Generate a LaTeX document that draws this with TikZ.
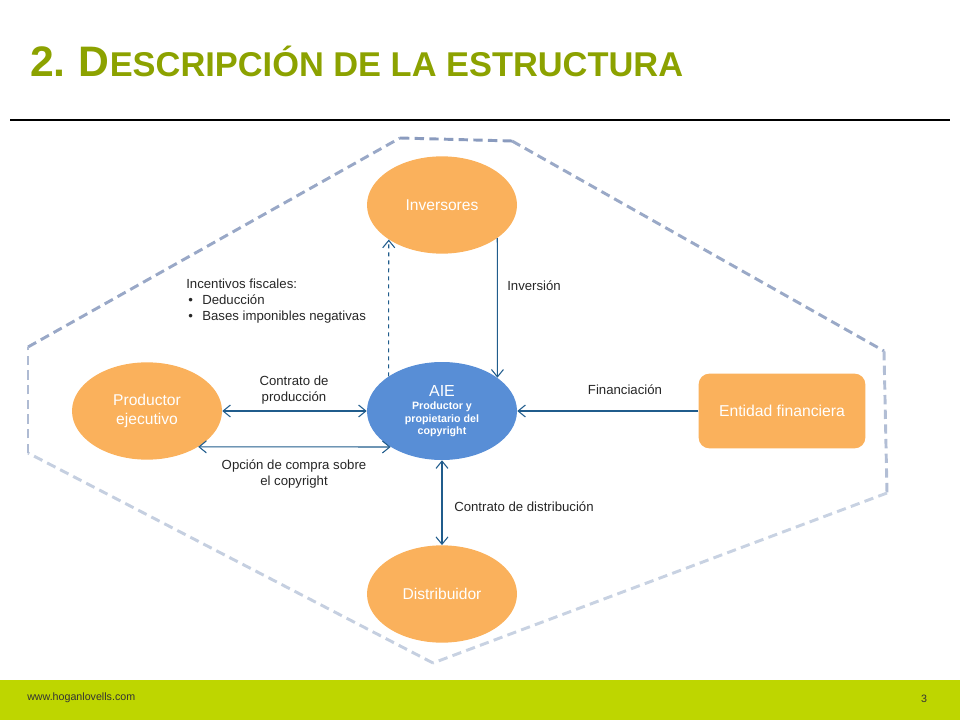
\documentclass[tikz,border=0pt]{standalone}
\usepackage{fontspec}
\setmainfont{Liberation Sans}
\usetikzlibrary{arrows.meta,shapes.geometric}

\definecolor{titlegreen}{RGB}{140,162,0}
\definecolor{footgreen}{RGB}{190,214,0}
\definecolor{partyfill}{RGB}{250,177,92}
\definecolor{aieblue}{RGB}{88,142,214}
\definecolor{flowblue}{RGB}{32,92,140}
\definecolor{octtop}{RGB}{138,155,190}
\definecolor{octbot}{RGB}{212,220,233}

\tikzset{
  party/.style={ellipse,fill=partyfill,text=white,minimum width=112.5pt,minimum height=73pt,
    inner sep=0pt,align=center,font=\fontsize{11.7}{14}\selectfont},
  flow/.style={draw=flowblue,line width=0.8pt},
  lbl/.style={inner sep=0pt,text=black!85,font=\fontsize{9.9}{12}\selectfont},
  octline/.style={line width=2.2pt,dash pattern=on 7pt off 4pt}
}

\begin{document}
\begin{tikzpicture}[x=0.75pt,y=-0.75pt,>={Straight Barb[length=5.5pt,width=9pt]}]
      \useasboundingbox (0,0) rectangle (960,720);
      \node[anchor=base west,inner sep=0pt,text=titlegreen,font=\bfseries] (title) at (30,77)
        {{\fontsize{32}{36}\selectfont 2.\hspace{-2pt} D}{\fontsize{25.8}{30}\selectfont ESCRIPCIÓN DE LA ESTRUCTURA}};
      \draw[line width=0.8pt] (10,120) to (950,120);

      \draw[octline,octtop!80!octbot] (28,347) to (400,138);
      \draw[octline,octtop] (400,138) to (512,141);
      \draw[octline,octtop!79!octbot] (512,141) to (884,351);
      \draw[octline,octtop!46!octbot] (884,351) to (887,493);
      \draw[octline,octtop!16!octbot] (887,493) to (433,663);
      \draw[octline,octtop!20!octbot] (433,663) to (28,453);
      \draw[octline,octtop!50!octbot] (28,453) to (28,347);

      \node[party] (inv) at (442,205) {Inversores};
      \node[party] (prod) at (147,411) {Productor\\ejecutivo};
      \node[party] (dist) at (442,594) {Distribuidor};
      \node[party,fill=aieblue,minimum height=73.5pt,font=\bfseries\fontsize{8}{9.2}\selectfont] (aie) at (442,411)
        {{\mdseries\fontsize{12}{14}\selectfont AIE}\\[1pt]Productor y\\propietario del\\copyright};
      \node[draw=none,fill=partyfill,rounded corners=8pt,minimum width=125pt,minimum height=56pt,
        text=white,font=\fontsize{11.8}{14}\selectfont] (fin) at (782,411) {Entidad financiera};

      \draw[flow,dashed,->] (aie.147) to (inv.213);
      \draw[flow,->] (inv.-31) to (aie.31);
      \draw[flow,<->] (prod.east) to (aie.west);
      \draw[flow,<->] (prod.-35) to (aie.215);
      \draw[flow,->] (fin.west) to (aie.east);
      \draw[flow,<->] (aie.south) to (dist.north);

      \node[lbl,anchor=west,align=left] (incent) at (186,301)
        {Incentivos fiscales:\\\makebox[12pt][l]{\,\textbullet}Deducción\\\makebox[12pt][l]{\,\textbullet}Bases imponibles negativas};
      \node[lbl,anchor=west] (inversion) at (507,286) {Inversión};
      \node[lbl,align=center] (prodlbl) at (294,390) {Contrato de\\producción};
      \node[lbl,align=center] (opcion) at (294,474) {Opción de compra sobre\\el copyright};
      \node[lbl] (financ) at (625,390) {Financiación};
      \node[lbl,anchor=west] (distlbl) at (454,507) {Contrato de distribución};

      \fill[footgreen] (0,680) rectangle (960,720);
      \node[lbl,anchor=west,font=\fontsize{8}{10}\selectfont,text=black!80] (web) at (27,698) {www.hoganlovells.com};
      \node[lbl,font=\fontsize{8}{10}\selectfont,text=black!80] (page) at (924,699) {3};
    \end{tikzpicture}
\end{document}
